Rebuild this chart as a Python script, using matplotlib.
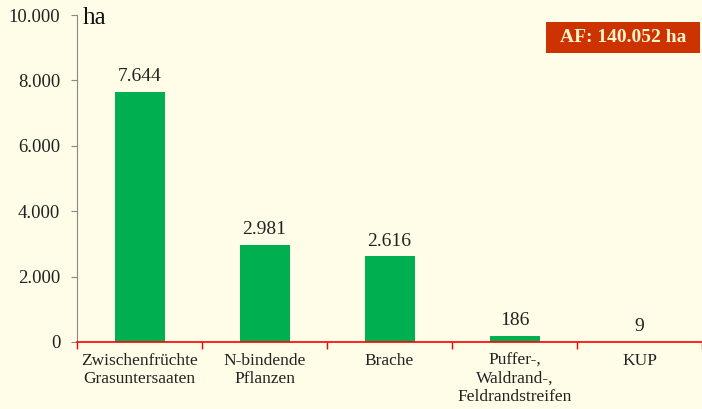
import matplotlib.pyplot as plt
import matplotlib.patches as patches
import numpy as np

# Daten
categories = ['Zwischenfrüchte\nGrasuntersaaten', 'N-bindende\nPflanzen', 'Brache',
              'Puffer-,\nWaldrand-,\nFeldrandstreifen', 'KUP']
values = [7644, 2981, 2616, 186, 9]
value_labels = ['7.644', '2.981', '2.616', '186', '9']
yticks = [0, 2000, 4000, 6000, 8000, 10000]
ytick_labels = ['0', '2.000', '4.000', '6.000', '8.000', '10.000']
total_label = 'AF: 140.052 ha'

bg = '#FFFDE7'
serif = ['Liberation Serif', 'DejaVu Serif']
plt.rcParams['font.family'] = serif

fig = plt.figure(figsize=(7.02, 4.09), dpi=100, facecolor=bg)
ax = fig.add_axes([77 / 702, 1 - 342 / 409, 1 - 77 / 702, 327 / 409])
ax.set_facecolor(bg)

x = np.arange(len(categories))
ax.bar(x, values, width=0.4, color='#00B050', zorder=2)
ax.set_xlim(-0.5, len(categories) - 0.5)
ax.set_ylim(0, 10000)

# Werte über den Balken
for xi, v, lab in zip(x, values, value_labels):
    ax.annotate(lab, (xi, v), xytext=(0, 5), textcoords='offset points',
                ha='center', va='bottom', fontsize=14, color='#222222')

# Achsen
ax.set_yticks(yticks)
ax.set_yticklabels(ytick_labels, fontsize=13.5, color='#222222')
ax.tick_params(axis='y', length=4, color='#888888', pad=8)

ax.set_xticks(x)
ax.set_xticklabels(categories, fontsize=12.5, color='#222222', linespacing=1.15)
ax.set_xticks(np.arange(len(categories) + 1) - 0.5, minor=True)
ax.tick_params(axis='x', which='major', length=0, pad=8)
ax.tick_params(axis='x', which='minor', length=5, color='red', width=1)

for s in ['top', 'right']:
    ax.spines[s].set_visible(False)
ax.spines['left'].set_color('#888888')
ax.spines['bottom'].set_color('red')
ax.spines['bottom'].set_linewidth(1.2)

# Einheit
ax.annotate('ha', (0, 1), xycoords='axes fraction', xytext=(4, 6),
            textcoords='offset points', ha='left', va='top', fontsize=18,
            color='#111111', family=serif)

# Gesamtfläche
fig.add_artist(patches.Rectangle((546 / 702, 1 - 53 / 409), 154 / 702, 31 / 409,
                                 transform=fig.transFigure, facecolor='#CC3300',
                                 edgecolor='none'))
fig.text(623 / 702, 1 - 38 / 409, total_label, ha='center', va='center', fontsize=14,
         fontweight='bold', color='#FFF5CC', family=serif)

fig.savefig('out.png', dpi=100, facecolor=bg)
